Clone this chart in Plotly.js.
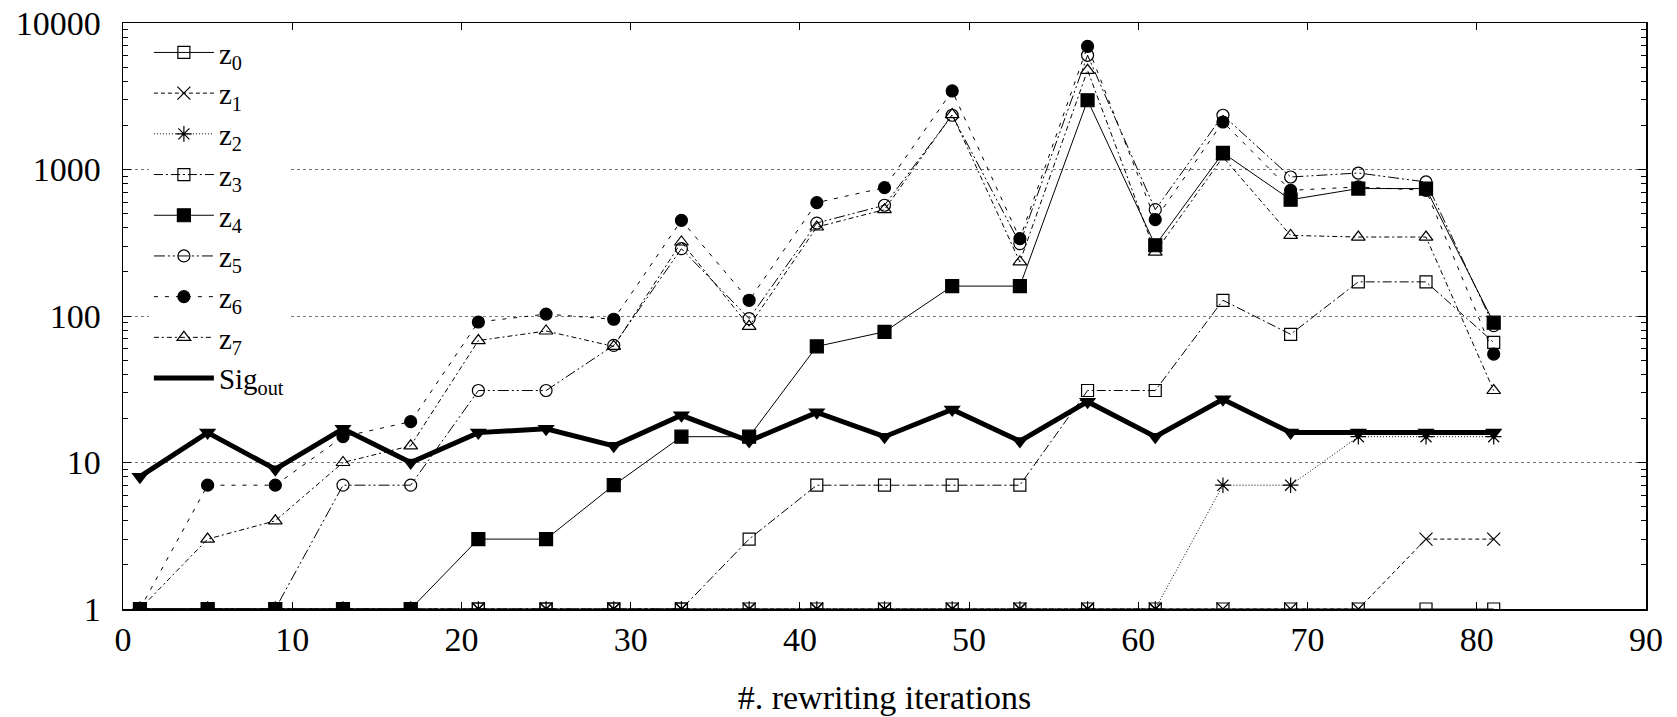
<!DOCTYPE html>
<html>
<head>
<meta charset="utf-8">
<script src="https://cdn.plot.ly/plotly-3.0.1.min.js"></script>
<style>html,body{margin:0;padding:0;background:#fff;}#chart{width:1677px;height:717px;}</style>
</head>
<body>
<div id="chart"></div>
<script>
// iterations
const iterations = [1,5,9,13,17,21,25,29,33,37,41,45,49,53,57,61,65,69,73,77,81];
// series values
const z0 = [1,1,1,1,1,1,1,1,1,1,1,1,1,1,1,1,1,1,1,1,1];
const z1 = [1,1,1,1,1,1,1,1,1,1,1,1,1,1,1,1,1,1,1,3,3];
const z2 = [1,1,1,1,1,1,1,1,1,1,1,1,1,1,1,1,7,7,15,15,15];
const z3 = [1,1,1,1,1,1,1,1,1,3,7,7,7,7,31,31,128,75,171,171,66];
const z4 = [1,1,1,1,1,3,3,7,15,15,62,78,160,160,2970,304,1297,622,741,741,90];
const z5 = [1,1,1,7,7,31,31,63,288,96,431,570,2345,312,6020,532,2345,889,946,822,86];
const z6 = [1,7,7,15,19,91,103,95,450,128,594,752,3436,337,6934,455,2110,721,760,721,55];
const z7 = [1,3,4,10,13,68,79,62,320,85,405,532,2370,234,4755,273,1217,355,346,346,31];
const sigOut = [8,16,9,17,10,16,17,13,21,14,22,15,23,14,26,15,27,16,16,16,16];
// labels
const seriesNames = ['z<sub>0</sub>','z<sub>1</sub>','z<sub>2</sub>','z<sub>3</sub>','z<sub>4</sub>','z<sub>5</sub>','z<sub>6</sub>','z<sub>7</sub>'];
const sigName = 'Sig<sub>out</sub>';
const yTickVals = [1,10,100,1000,10000];
const yTickText = ['1','10','100','1000','10000'];
const yMinorTicks = [2,3,4,5,6,7,8,9,20,30,40,50,60,70,80,90,200,300,400,500,600,700,800,900,2000,3000,4000,5000,6000,7000,8000,9000];
const xTitle = '#. rewriting iterations';

const seriesData = [z0,z1,z2,z3,z4,z5,z6,z7];
const styles = [
  {dash:'solid', symbol:'square-open', size:12},
  {dash:'4px,3px', symbol:'x-thin-open', size:13},
  {dash:'1px,2px', symbol:'asterisk-open', size:13},
  {dash:'9px,3px,2px,3px', symbol:'square-open', size:12},
  {dash:'solid', symbol:'square', size:13},
  {dash:'11px,3px,2px,3px,2px,3px', symbol:'circle-open', size:12},
  {dash:'4px,7px', symbol:'circle', size:12},
  {dash:'5px,3px,2px,3px', symbol:'triangle-up-open', size:12}
];

const traces = seriesData.map((ys, i) => ({
  x: iterations, y: ys, name: seriesNames[i], type: 'scatter', mode: 'lines+markers',
  line: {color: 'black', width: 1, dash: styles[i].dash},
  marker: {color: 'black', symbol: styles[i].symbol, size: styles[i].size, line: {color: 'black', width: 1.2}}
}));
traces.push({
  x: iterations, y: sigOut, name: sigName, type: 'scatter', mode: 'lines',
  line: {color: 'black', width: 5}
});
traces.push({
  x: iterations, y: sigOut, name: sigName, type: 'scatter', mode: 'markers', showlegend: false,
  marker: {color: 'black', symbol: 'triangle-down', size: 15}
});

const font = {family: '"Liberation Serif", "Times New Roman", serif', color: 'black'};
const layout = {
  width: 1677, height: 717,
  margin: {l: 123, r: 31, t: 23, b: 108},
  paper_bgcolor: 'white', plot_bgcolor: 'white',
  font: Object.assign({size: 34}, font),
  showlegend: true,
  legend: {
    x: 0.017, y: 0.993, xanchor: 'left', yanchor: 'top',
    bgcolor: 'white', borderwidth: 0,
    font: Object.assign({size: 29}, font),
    tracegroupgap: 0, itemwidth: 60
  },
  xaxis: {
    range: [0, 90], dtick: 10, tick0: 0,
    showline: true, linecolor: 'black', linewidth: 1.5, mirror: 'ticks',
    ticks: 'inside', ticklen: 7, tickcolor: 'black', tickwidth: 1,
    showgrid: false, zeroline: false,
    tickfont: Object.assign({size: 34}, font),
    title: {text: xTitle, font: Object.assign({size: 34}, font), standoff: 28}
  },
  yaxis: {
    type: 'log', range: [0, 4],
    tickvals: yTickVals, ticktext: yTickText,
    showline: true, linecolor: 'black', linewidth: 1.5, mirror: 'ticks',
    ticks: 'inside', ticklen: 8, tickcolor: 'black', tickwidth: 1,
    showgrid: true, gridcolor: '#777', griddash: 'dot', gridwidth: 1,
    zeroline: false, ticklabelstandoff: 14,
    tickfont: Object.assign({size: 34}, font),
    minor: {tickvals: yMinorTicks, ticks: 'inside', ticklen: 5, tickcolor: 'black', tickwidth: 1, showgrid: false}
  }
};

Plotly.newPlot('chart', traces, layout, {displayModeBar: false, staticPlot: true});
</script>
</body>
</html>
